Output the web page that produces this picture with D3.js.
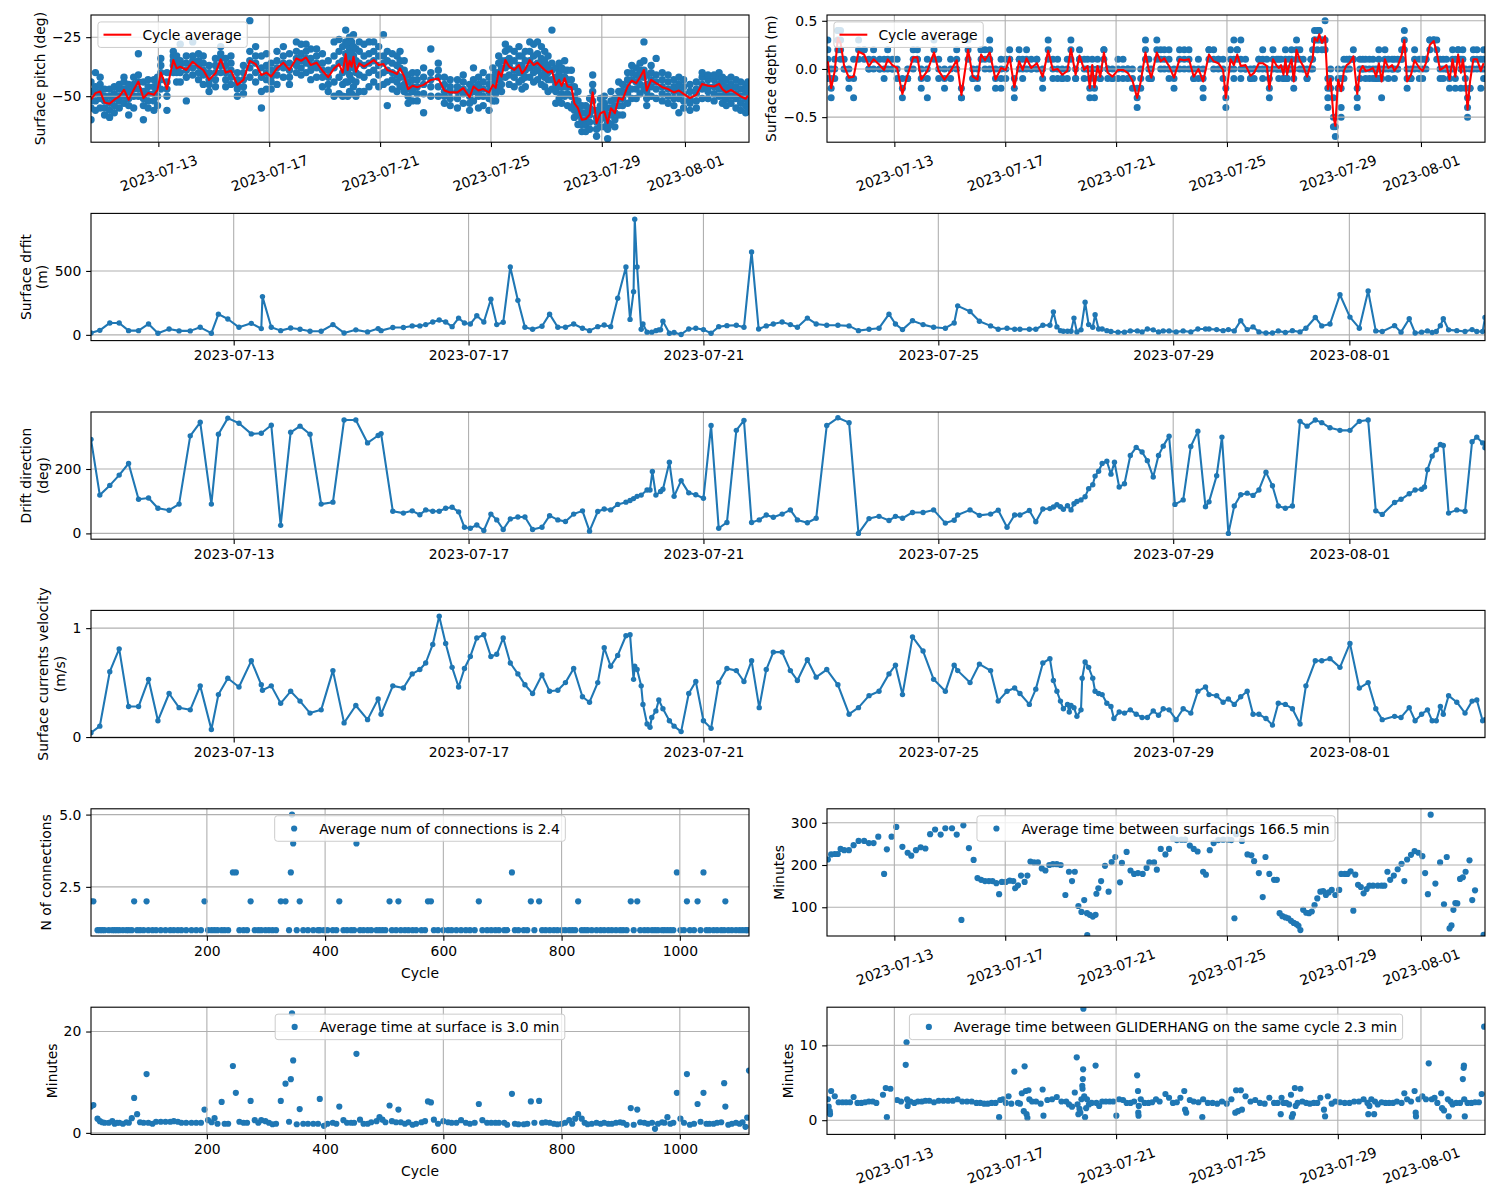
<!DOCTYPE html>
<html><head><meta charset="utf-8">
<script src="https://cdn.jsdelivr.net/npm/d3@7/dist/d3.min.js"></script>
<style>
html,body{margin:0;padding:0;background:#fff;}
svg{display:block;}
text{font-family:"DejaVu Sans",sans-serif;}
</style></head>
<body>
<svg id="chart" width="1500" height="1200"></svg>
<script>
// ================= DATA =================
const START = "2023-07-10";            // time values below are days since this date (UTC)
const timeExtent = [0.57, 24.31];
const cycleExtent = [4, 1117];
const dateTickLabels = ["2023-07-13","2023-07-17","2023-07-21","2023-07-25","2023-07-29","2023-08-01"];
const cycleTicks = [200,400,600,800,1000];

// [time, cycle average pitch, [pitch samples]]
const pitchCycles = [
[0.57,-51.5,[-60,-55,-52,-48,-44]],[0.73,-48.7,[-56,-52,-49,-46,-40]],[0.90,-48.0,[-55,-51,-48,-45,-42]],
[1.06,-52.7,[-58,-55,-52,-50,-47]],[1.24,-53.2,[-59,-56,-53,-50,-47]],[1.41,-51.5,[-57,-54,-51,-49,-46]],
[1.59,-50.1,[-55,-52,-50,-47,-45]],[1.76,-47.3,[-53,-50,-47,-44,-42]],[1.93,-51.5,[-58,-54,-51,-48,-45]],
[2.11,-47.3,[-55,-50,-47,-45,-42]],[2.28,-43.8,[-50,-47,-44,-41,-32]],[2.46,-50.8,[-60,-54,-51,-48,-44]],
[2.63,-48.7,[-55,-52,-49,-46,-43]],[2.84,-49.4,[-56,-52,-49,-46,-43]],[2.97,-47.3,[-54,-50,-47,-45,-42]],
[3.09,-40.0,[-47,-43,-40,-37,-34]],[3.31,-47.0,[-56,-50,-47,-44,-40]],[3.54,-34.7,[-40,-37,-35,-33,-31]],
[3.66,-38.2,[-44,-40,-38,-36,-33]],[3.79,-37.5,[-44,-40,-37,-35,-28]],[4.01,-38.9,[-52,-42,-39,-36,-33]],
[4.24,-35.4,[-41,-38,-35,-33,-27]],[4.45,-37.5,[-43,-40,-37,-35,-32]],[4.62,-38.9,[-45,-41,-39,-36,-33]],
[4.83,-43.1,[-48,-45,-43,-40,-37]],[5.06,-40.3,[-46,-43,-40,-37,-34]],[5.25,-34.4,[-40,-37,-34,-32,-29]],
[5.43,-40.0,[-46,-43,-40,-37,-34]],[5.62,-39.2,[-45,-42,-39,-36,-33]],[5.85,-45.2,[-50,-47,-45,-43,-40]],
[6.07,-43.1,[-49,-46,-43,-40,-37]],[6.30,-35.0,[-42,-38,-35,-31,-18]],[6.51,-36.4,[-44,-40,-36,-33,-29]],
[6.72,-41.0,[-55,-48,-42,-38,-33]],[6.90,-40.0,[-47,-43,-40,-37,-32]],[7.07,-41.7,[-47,-44,-42,-39,-36]],
[7.28,-38.2,[-45,-41,-38,-35,-31]],[7.51,-35.8,[-42,-38,-36,-33,-29]],[7.73,-38.9,[-45,-42,-39,-36,-32]],
[7.98,-34.0,[-40,-37,-34,-31,-27]],[8.15,-35.0,[-41,-38,-35,-32,-28]],[8.33,-33.6,[-40,-36,-34,-31,-28]],
[8.50,-36.8,[-43,-39,-37,-34,-30]],[8.71,-35.8,[-42,-38,-36,-33,-30]],[8.92,-39.2,[-46,-42,-39,-36,-32]],
[9.13,-42.0,[-48,-45,-42,-39,-35]],[9.34,-38.2,[-50,-44,-38,-33,-27]],[9.52,-36.4,[-49,-42,-36,-31,-26]],
[9.65,-40.0,[-50,-45,-40,-35,-29]],[9.76,-32.2,[-44,-37,-32,-27,-22]],[9.83,-38.9,[-50,-44,-39,-33,-28]],
[9.90,-35.0,[-48,-41,-35,-30,-25]],[9.97,-37.5,[-49,-43,-37,-32,-27]],[10.04,-33.3,[-46,-38,-33,-29,-24]],
[10.13,-39.6,[-50,-44,-40,-35,-30]],[10.25,-36.1,[-48,-41,-36,-31,-27]],[10.42,-37.5,[-48,-42,-37,-33,-28]],
[10.60,-36.1,[-46,-40,-36,-32,-27]],[10.77,-34.7,[-44,-39,-35,-31,-27]],[10.95,-36.8,[-46,-41,-37,-33,-29]],
[11.12,-36.4,[-45,-40,-36,-33,-24]],[11.26,-38.9,[-54,-44,-39,-35,-31]],[11.44,-39.6,[-47,-43,-40,-36,-32]],
[11.61,-40.6,[-48,-44,-41,-37,-33]],[11.72,-38.2,[-46,-42,-38,-35,-31]],[11.87,-41.7,[-48,-45,-42,-39,-35]],
[12.01,-47.0,[-53,-50,-47,-44,-41]],[12.17,-45.6,[-52,-48,-46,-43,-40]],[12.34,-46.2,[-52,-49,-46,-43,-40]],
[12.57,-45.2,[-57,-49,-45,-42,-38]],[12.83,-43.1,[-50,-46,-43,-40,-30]],[13.10,-42.5,[-50,-46,-42,-39,-36]],
[13.32,-47.6,[-53,-50,-48,-45,-42]],[13.53,-48.4,[-54,-51,-48,-46,-43]],[13.79,-48.4,[-55,-51,-48,-46,-43]],
[14.00,-46.6,[-53,-49,-47,-44,-41]],[14.23,-50.4,[-56,-53,-50,-48,-45]],[14.37,-45.9,[-52,-48,-46,-43,-38]],
[14.55,-47.6,[-55,-50,-48,-45,-42]],[14.72,-47.0,[-54,-50,-47,-44,-40]],[14.93,-48.4,[-56,-51,-48,-45,-42]],
[15.07,-45.2,[-52,-48,-45,-42,-38]],[15.17,-46.5,[-52,-49,-46,-43,-40]],[15.28,-39.6,[-47,-43,-40,-36,-33]],
[15.38,-41.7,[-48,-45,-42,-38,-35]],[15.52,-34.7,[-42,-38,-35,-31,-28]],[15.66,-37.5,[-45,-41,-37,-34,-30]],
[15.84,-38.9,[-46,-42,-39,-35,-31]],[16.01,-36.8,[-44,-40,-37,-33,-29]],[16.12,-40.3,[-47,-43,-40,-37,-33]],
[16.24,-38.6,[-46,-42,-39,-35,-31]],[16.40,-34.7,[-42,-38,-35,-31,-27]],[16.54,-36.8,[-44,-40,-37,-33,-28]],
[16.68,-35.8,[-43,-39,-36,-32,-27]],[16.82,-37.5,[-45,-41,-37,-34,-29]],[16.94,-38.9,[-46,-42,-39,-35,-31]],
[17.06,-40.0,[-48,-43,-40,-37,-33]],[17.20,-39.2,[-47,-43,-39,-36,-22]],[17.34,-45.2,[-53,-48,-45,-42,-38]],
[17.46,-43.1,[-51,-46,-43,-40,-36]],[17.55,-45.6,[-53,-49,-46,-42,-38]],[17.66,-42.4,[-50,-46,-42,-39,-35]],
[17.76,-45.9,[-54,-49,-46,-43,-39]],[17.90,-46.2,[-55,-50,-46,-43,-39]],[18.01,-53.0,[-59,-56,-53,-50,-46]],
[18.14,-55.1,[-62,-58,-55,-52,-48]],[18.28,-60.0,[-65,-62,-60,-57,-54]],[18.42,-59.7,[-65,-62,-60,-57,-54]],
[18.56,-57.9,[-64,-61,-58,-55,-51]],[18.67,-48.4,[-56,-52,-48,-45,-41]],[18.81,-61.4,[-67,-64,-61,-59,-56]],
[18.95,-57.2,[-63,-60,-57,-54,-51]],[19.09,-56.5,[-63,-59,-56,-53,-50]],[19.21,-61.4,[-68,-64,-61,-58,-55]],
[19.33,-55.1,[-62,-58,-55,-52,-48]],[19.47,-57.2,[-63,-60,-57,-54,-51]],[19.61,-50.8,[-58,-54,-51,-48,-44]],
[19.75,-51.5,[-58,-54,-51,-48,-45]],[19.93,-45.9,[-53,-49,-46,-43,-40]],[20.08,-43.4,[-51,-47,-43,-40,-37]],
[20.24,-44.5,[-51,-47,-44,-41,-38]],[20.38,-42.0,[-49,-45,-42,-39,-36]],[20.52,-38.9,[-47,-42,-39,-35,-27]],
[20.62,-47.6,[-54,-51,-48,-45,-41]],[20.78,-43.1,[-50,-46,-43,-40,-37]],[20.96,-44.5,[-51,-47,-44,-41,-34]],
[21.18,-46.2,[-52,-49,-46,-43,-40]],[21.39,-47.0,[-53,-50,-47,-44,-41]],[21.60,-48.4,[-54,-51,-48,-46,-43]],
[21.78,-47.6,[-57,-51,-48,-45,-42]],[21.95,-49.0,[-55,-52,-49,-46,-43]],[22.18,-50.8,[-56,-53,-51,-48,-45]],
[22.41,-49.4,[-55,-52,-49,-47,-44]],[22.62,-44.8,[-51,-47,-45,-42,-40]],[22.83,-45.6,[-51,-48,-46,-43,-41]],
[23.05,-45.9,[-52,-49,-46,-43,-41]],[23.23,-44.8,[-50,-47,-45,-42,-40]],[23.35,-47.0,[-53,-50,-47,-44,-42]],
[23.49,-48.4,[-54,-51,-48,-46,-43]],[23.66,-47.3,[-53,-50,-47,-45,-42]],[23.84,-48.7,[-55,-51,-49,-46,-43]],
[24.01,-50.1,[-56,-53,-50,-47,-44]],[24.19,-51.1,[-57,-54,-51,-48,-45]],[24.27,-49.8,[-56,-52,-50,-47,-44]]
];

// [time, cycle average depth, [depth samples]]
const depthCycles = [
[0.60,0.08,[0.3,0.2,0.1,0,-0.1]],[0.72,-0.20,[0,-0.1,-0.2,-0.3]],[0.85,-0.02,[0.1,0,-0.1]],[0.96,0.32,[0.4,0.4,0.3,0.2]],
[1.06,0.27,[0.4,0.3,0.2,0.1]],[1.19,0.03,[0.1,0,0]],[1.36,-0.09,[0,-0.1,-0.2]],[1.53,-0.08,[0.1,-0.1,-0.3]],
[1.71,0.18,[0.3,0.2,0.1]],[1.91,0.15,[0.2,0.2,0.1]],[2.08,0.03,[0.1,0,0]],[2.25,0.10,[0.2,0.1,0]],
[2.47,0.04,[0.1,0,0]],[2.63,-0.01,[0.1,0,-0.1]],[2.76,0.10,[0.2,0.1,0]],[2.93,0.04,[0.1,0,0]],
[3.10,0.01,[0.1,0,-0.1]],[3.29,-0.26,[-0.1,-0.2,-0.3]],[3.48,-0.06,[0,-0.1,-0.1]],[3.68,0.12,[0.2,0.1,0]],
[3.83,0.12,[0.2,0.1,0.1]],[3.97,-0.11,[0,-0.1,-0.2]],[4.19,-0.02,[0.1,0,-0.1,-0.3]],[4.43,0.17,[0.3,0.2,0.1]],
[4.60,-0.02,[0.1,0,-0.1]],[4.81,-0.11,[0,-0.1,-0.2]],[5.03,-0.02,[0.1,0,-0.1]],[5.25,0.09,[0.2,0.1,0]],
[5.42,-0.27,[-0.2,-0.3,-0.3]],[5.66,0.20,[0.3,0.2,0.1]],[5.83,-0.08,[0,-0.1,-0.1]],[6.00,-0.11,[0,-0.1,-0.2]],
[6.13,0.15,[0.2,0.2,0.1]],[6.27,0.09,[0.2,0.1,0]],[6.44,0.17,[0.3,0.2,0.1,0]],[6.65,-0.11,[0,-0.1,-0.2]],
[6.85,0.01,[0.1,0,-0.1,-0.2]],[7.02,-0.01,[0.1,0,-0.1]],[7.16,0.12,[0.2,0.1,0.1]],[7.33,-0.19,[-0.1,-0.2,-0.3]],
[7.50,0.08,[0.2,0.1,0]],[7.63,-0.01,[0.1,0,-0.1]],[7.77,0.11,[0.2,0.1,0]],[7.94,0.01,[0.1,0,0]],
[8.14,0.06,[0.1,0.1,0]],[8.35,-0.08,[0,-0.1,-0.2]],[8.55,0.19,[0.3,0.2,0.1]],[8.72,-0.01,[0.1,0,-0.1]],
[8.89,0.00,[0.1,0,-0.1]],[9.06,-0.06,[0,-0.1,-0.1]],[9.24,-0.02,[0.1,0,-0.1]],[9.37,0.21,[0.3,0.2,0.1]],
[9.54,-0.06,[0,-0.1,-0.1]],[9.68,0.14,[0.2,0.1,0.1]],[9.85,-0.01,[0.1,0,-0.1]],[9.97,0.03,[0.1,0,0]],
[10.05,-0.20,[-0.1,-0.2,-0.3]],[10.14,0.04,[0.1,0,0]],[10.22,-0.19,[-0.1,-0.2,-0.3]],[10.33,0.03,[0.1,0,0]],
[10.43,-0.08,[0,-0.1,-0.1]],[10.56,0.17,[0.2,0.2,0.1]],[10.70,-0.04,[0,0,-0.1]],[10.87,-0.08,[0,-0.1,-0.1]],
[11.07,-0.01,[0.1,0,-0.1]],[11.25,-0.01,[0.1,0,-0.1]],[11.42,-0.04,[0,0,-0.1]],[11.59,-0.12,[0,-0.1,-0.2]],
[11.76,-0.30,[-0.2,-0.3,-0.4]],[11.89,-0.13,[0,-0.1,-0.2]],[12.06,0.17,[0.3,0.2,0.1]],[12.18,-0.01,[0.1,0,-0.1]],
[12.27,-0.09,[0,-0.1,-0.1]],[12.47,0.17,[0.3,0.2,0.1]],[12.61,0.08,[0.2,0.1,0]],[12.74,0.11,[0.2,0.1,0]],
[12.91,0.03,[0.2,0.1,0,-0.1]],[13.09,-0.09,[0,-0.1,-0.2]],[13.29,0.10,[0.2,0.1,0]],[13.46,0.09,[0.2,0.1,0]],
[13.63,0.10,[0.2,0.1,0]],[13.80,-0.08,[0,-0.1,-0.1]],[13.97,0.00,[0.1,0,-0.1]],[14.14,-0.13,[0,-0.1,-0.2,-0.3]],
[14.35,0.15,[0.2,0.2,0.1]],[14.52,0.08,[0.2,0.1,0]],[14.69,0.06,[0.1,0.1,0]],[14.86,-0.01,[0.1,0,-0.1]],
[14.96,-0.30,[-0.2,-0.3,-0.4]],[15.13,0.10,[0.2,0.1,0]],[15.25,0.04,[0.3,0.1,0,-0.1]],[15.37,0.15,[0.2,0.2,0.1]],
[15.50,0.03,[0.3,0.1,0,-0.1]],[15.67,0.04,[0.1,0,0]],[15.85,-0.07,[0,-0.1,-0.1]],[15.98,-0.04,[0,0,-0.1]],
[16.15,0.06,[0.1,0.1,0]],[16.29,0.06,[0.2,0.1,0,-0.1]],[16.44,0.03,[0.1,0,0]],[16.53,-0.21,[-0.1,-0.2,-0.3]],
[16.66,0.10,[0.2,0.1,0]],[16.80,0.03,[0.1,0,0]],[16.87,0.01,[0.1,0,-0.1]],[16.95,0.04,[0.1,0,0]],
[17.04,-0.06,[0,-0.1,-0.1]],[17.11,0.10,[0.2,0.1,0]],[17.17,-0.06,[0,-0.1,-0.1]],[17.24,0.03,[0.1,0,0]],
[17.33,0.10,[0.2,0.1,0]],[17.41,-0.13,[0,-0.1,-0.2]],[17.51,0.20,[0.3,0.2,0.1]],[17.63,0.09,[0.2,0.1,0]],
[17.75,0.03,[0.1,0,0]],[17.89,-0.08,[0,-0.1,-0.1]],[18.03,0.06,[0.1,0.1,0]],[18.09,0.10,[0.2,0.1,0]],
[18.16,0.32,[0.4,0.3,0.3]],[18.26,0.29,[0.4,0.3,0.2]],[18.33,0.36,[0.4,0.4,0.3]],[18.43,0.27,[0.3,0.3,0.2]],
[18.54,0.34,[0.5,0.3,0.2]],[18.64,-0.21,[-0.1,-0.2,-0.3,-0.4]],[18.74,-0.10,[0,-0.1,-0.2]],[18.84,-0.49,[-0.3,-0.5,-0.6]],
[18.91,-0.59,[-0.5,-0.6,-0.7]],[19.01,-0.11,[0,-0.1,-0.2]],[19.12,-0.23,[-0.1,-0.2,-0.4,-0.5]],[19.22,-0.02,[0.1,0,-0.1]],
[19.32,0.04,[0.1,0,0]],[19.42,0.06,[0.1,0.1,0]],[19.56,0.13,[0.2,0.1,0.1]],[19.70,-0.26,[-0.2,-0.3,-0.4]],
[19.80,-0.02,[0.1,0,-0.1]],[19.90,0.03,[0.1,0,0]],[20.00,-0.02,[0.1,0,-0.1]],[20.14,-0.01,[0.1,0,-0.1]],
[20.27,0.01,[0.1,0,-0.1]],[20.38,-0.08,[0,-0.1,-0.1]],[20.48,0.06,[0.2,0.1,0,-0.1]],[20.58,-0.13,[0,-0.1,-0.3]],
[20.70,0.10,[0.2,0.1,0]],[20.82,0.01,[0.1,0,-0.1]],[20.96,0.04,[0.1,0,0]],[21.04,-0.02,[0.1,0,-0.1]],
[21.16,0.03,[0.1,0,0]],[21.30,0.14,[0.2,0.1,0.1]],[21.40,0.30,[0.4,0.3,0.2]],[21.50,-0.13,[0,-0.1,-0.2]],
[21.64,-0.06,[0,-0.1,-0.1]],[21.77,0.09,[0.2,0.1,0]],[21.94,0.01,[0.1,0,-0.1]],[22.06,-0.02,[0.1,0,-0.1]],
[22.18,0.06,[0.1,0.1,0]],[22.32,0.25,[0.3,0.3,0.2]],[22.46,0.29,[0.3,0.3,0.3]],[22.57,0.17,[0.3,0.2,0.1]],
[22.69,-0.01,[0.1,0,-0.1]],[22.80,0.01,[0.1,0,-0.1]],[22.92,0.04,[0.1,0,0]],[23.03,-0.11,[0,-0.1,-0.2]],
[23.14,0.10,[0.2,0.1,0]],[23.24,-0.08,[0.1,-0.1,-0.2]],[23.34,0.15,[0.2,0.2,0.1]],[23.44,-0.04,[0.1,0,-0.2]],
[23.51,0.10,[0.2,0.1,0]],[23.60,-0.09,[0,-0.1,-0.2]],[23.68,-0.42,[-0.3,-0.4,-0.5]],[23.77,-0.13,[0,-0.2,-0.2]],
[23.89,0.10,[0.2,0.1,0]],[24.02,0.10,[0.2,0.1,0]],[24.16,-0.02,[0.1,0,-0.2]],[24.26,0.06,[0.2,0.1,0,-0.1]]
];

// [time, surface drift (m)]
const driftData = [
[0.57,15],[0.72,35],[0.89,93],[1.05,93],[1.21,33],[1.38,33],[1.55,85],[1.71,13],[1.90,46],[2.07,31],[2.26,31],[2.43,59],
[2.62,13],[2.74,162],[2.90,124],[3.09,59],[3.30,90],[3.47,49],[3.49,299],[3.64,59],[3.80,33],[3.97,54],[4.13,44],[4.30,28],
[4.49,28],[4.69,80],[4.88,15],[5.08,39],[5.28,23],[5.46,49],[5.51,33],[5.71,57],[5.89,57],[6.04,70],[6.17,70],[6.27,80],
[6.39,100],[6.50,116],[6.61,100],[6.72,64],[6.83,131],[6.93,93],[7.03,85],[7.14,149],[7.26,100],[7.38,278],[7.48,80],[7.59,98],
[7.71,531],[7.84,270],[7.96,59],[8.09,44],[8.25,67],[8.38,162],[8.52,59],[8.65,59],[8.79,85],[8.94,52],[9.06,33],[9.20,64],
[9.31,77],[9.42,64],[9.54,286],[9.68,531],[9.75,121],[9.81,338],[9.83,904],[9.87,531],[9.94,44],[9.97,85],[10.04,21],[10.12,21],
[10.19,33],[10.24,39],[10.27,39],[10.31,106],[10.42,13],[10.50,18],[10.62,3],[10.75,46],[10.87,52],[11.00,41],[11.13,13],[11.26,64],
[11.40,72],[11.56,75],[11.69,59],[11.82,649],[11.94,46],[12.07,70],[12.19,85],[12.34,100],[12.48,80],[12.60,59],[12.77,131],[12.92,85],
[13.10,75],[13.29,75],[13.48,70],[13.64,33],[13.82,44],[13.99,52],[14.16,162],[14.27,85],[14.39,41],[14.56,111],[14.74,80],[14.92,59],
[15.12,52],[15.27,93],[15.33,227],[15.54,183],[15.70,106],[15.89,70],[16.02,44],[16.17,52],[16.30,44],[16.39,44],[16.55,44],[16.66,44],
[16.78,75],[16.90,75],[16.96,180],[17.02,62],[17.08,33],[17.13,28],[17.20,28],[17.26,28],[17.31,131],[17.36,23],[17.43,39],[17.50,255],
[17.56,80],[17.63,59],[17.67,157],[17.73,46],[17.79,46],[17.87,33],[17.94,26],[18.06,21],[18.17,21],[18.27,31],[18.39,31],[18.47,23],
[18.56,46],[18.66,39],[18.75,23],[18.83,31],[18.93,31],[19.05,23],[19.17,31],[19.30,23],[19.42,46],[19.55,46],[19.61,46],[19.74,41],
[19.85,33],[19.94,41],[20.04,31],[20.15,111],[20.26,41],[20.36,62],[20.46,23],[20.58,15],[20.69,15],[20.79,31],[20.91,18],[21.03,33],
[21.16,23],[21.26,52],[21.42,136],[21.53,70],[21.67,85],[21.84,314],[22.01,139],[22.17,52],[22.32,343],[22.45,31],[22.56,26],[22.77,72],
[22.88,21],[23.02,126],[23.12,15],[23.23,21],[23.33,31],[23.41,18],[23.48,26],[23.55,72],[23.60,126],[23.69,39],[23.83,33],[23.97,26],
[24.09,41],[24.17,26],[24.27,26],[24.31,136]
];

// [time, drift direction (deg)]
const directionData = [
[0.57,292],[0.72,119],[0.89,149],[1.05,181],[1.21,217],[1.38,106],[1.55,110],[1.71,78],[1.90,72],[2.07,91],[2.26,303],[2.43,345],
[2.62,91],[2.74,308],[2.90,358],[3.09,342],[3.30,309],[3.47,311],[3.64,336],[3.80,25],[3.97,314],[4.13,333],[4.30,308],[4.49,91],
[4.69,97],[4.88,352],[5.08,352],[5.28,281],[5.46,304],[5.51,310],[5.71,69],[5.89,63],[6.04,70],[6.17,58],[6.27,73],[6.39,69],
[6.50,69],[6.61,78],[6.72,81],[6.83,67],[6.93,19],[7.03,16],[7.14,26],[7.26,9],[7.38,60],[7.48,42],[7.59,12],[7.71,45],
[7.84,51],[7.96,51],[8.09,12],[8.25,19],[8.38,55],[8.52,42],[8.65,37],[8.79,60],[8.94,70],[9.06,7],[9.20,68],[9.31,76],
[9.42,73],[9.54,90],[9.68,97],[9.75,102],[9.81,108],[9.87,115],[9.94,119],[10.04,135],[10.09,135],[10.13,192],[10.19,119],[10.27,130],
[10.31,137],[10.42,221],[10.50,115],[10.62,164],[10.75,126],[10.87,120],[11.00,109],[11.13,335],[11.26,16],[11.40,34],[11.56,320],[11.69,351],
[11.82,34],[11.95,42],[12.07,57],[12.19,50],[12.34,60],[12.48,73],[12.60,42],[12.77,33],[12.92,47],[13.10,335],[13.29,359],[13.48,344],
[13.64,0],[13.82,46],[13.99,53],[14.16,40],[14.27,53],[14.39,47],[14.56,65],[14.74,65],[14.92,73],[15.12,32],[15.27,41],[15.33,57],
[15.54,73],[15.70,56],[15.89,60],[16.02,72],[16.17,19],[16.30,57],[16.39,57],[16.55,71],[16.66,36],[16.78,76],[16.90,77],[16.96,82],
[17.02,89],[17.08,83],[17.13,75],[17.20,86],[17.26,73],[17.31,92],[17.36,99],[17.43,104],[17.50,114],[17.56,139],[17.63,151],[17.67,178],
[17.73,193],[17.79,217],[17.87,224],[17.94,184],[18.00,221],[18.08,144],[18.17,154],[18.27,242],[18.37,267],[18.47,253],[18.56,226],[18.66,175],
[18.75,242],[18.83,271],[18.93,302],[19.03,90],[19.17,104],[19.30,270],[19.42,317],[19.55,83],[19.61,98],[19.74,179],[19.83,299],[19.94,0],
[20.04,85],[20.15,120],[20.26,125],[20.36,118],[20.46,135],[20.58,190],[20.69,148],[20.79,85],[20.91,78],[21.03,85],[21.16,348],[21.28,333],
[21.42,352],[21.53,344],[21.67,328],[21.84,320],[22.01,320],[22.17,348],[22.32,352],[22.45,70],[22.56,59],[22.77,96],[22.88,106],[23.02,123],
[23.12,135],[23.23,137],[23.28,144],[23.33,198],[23.41,240],[23.48,260],[23.55,276],[23.60,273],[23.69,63],[23.83,73],[23.97,69],[24.09,285],
[24.17,299],[24.27,281],[24.31,266]
];

// [time, surface currents velocity (m/s)]
const velocityData = [
[0.57,0.04],[0.72,0.10],[0.89,0.60],[1.05,0.81],[1.21,0.28],[1.38,0.28],[1.55,0.53],[1.71,0.15],[1.90,0.40],[2.07,0.27],[2.26,0.25],[2.43,0.47],
[2.62,0.07],[2.74,0.39],[2.90,0.54],[3.09,0.46],[3.30,0.70],[3.47,0.48],[3.49,0.43],[3.64,0.47],[3.80,0.31],[3.97,0.42],[4.13,0.33],[4.30,0.22],
[4.49,0.25],[4.69,0.61],[4.88,0.13],[5.08,0.29],[5.28,0.16],[5.46,0.35],[5.51,0.21],[5.71,0.47],[5.89,0.45],[6.04,0.58],[6.17,0.62],[6.27,0.68],
[6.39,0.85],[6.50,1.11],[6.61,0.86],[6.72,0.64],[6.83,0.46],[6.93,0.63],[7.03,0.74],[7.14,0.91],[7.26,0.94],[7.38,0.74],[7.48,0.76],[7.59,0.91],
[7.71,0.68],[7.84,0.58],[7.96,0.48],[8.09,0.40],[8.25,0.57],[8.38,0.42],[8.52,0.43],[8.65,0.50],[8.79,0.63],[8.94,0.37],[9.06,0.32],[9.20,0.50],
[9.31,0.82],[9.42,0.65],[9.54,0.75],[9.68,0.93],[9.75,0.94],[9.81,0.53],[9.83,0.65],[9.87,0.62],[9.94,0.47],[9.97,0.30],[10.04,0.12],[10.09,0.09],
[10.12,0.18],[10.19,0.24],[10.24,0.34],[10.31,0.26],[10.42,0.15],[10.50,0.10],[10.62,0.05],[10.75,0.40],[10.87,0.51],[11.00,0.15],[11.13,0.08],[11.26,0.50],
[11.40,0.63],[11.56,0.61],[11.69,0.51],[11.82,0.70],[11.95,0.27],[12.07,0.62],[12.19,0.78],[12.34,0.78],[12.48,0.61],[12.60,0.52],[12.77,0.71],[12.92,0.55],
[13.10,0.62],[13.29,0.48],[13.48,0.21],[13.64,0.27],[13.82,0.38],[13.99,0.42],[14.16,0.58],[14.27,0.66],[14.39,0.39],[14.56,0.92],[14.74,0.79],[14.92,0.53],
[15.12,0.42],[15.27,0.66],[15.33,0.61],[15.54,0.50],[15.70,0.67],[15.89,0.61],[16.02,0.33],[16.17,0.42],[16.30,0.45],[16.39,0.40],[16.55,0.30],[16.66,0.44],
[16.78,0.68],[16.90,0.72],[16.96,0.52],[17.02,0.42],[17.08,0.33],[17.13,0.26],[17.20,0.30],[17.23,0.23],[17.26,0.29],[17.31,0.27],[17.36,0.19],[17.43,0.25],
[17.45,0.54],[17.50,0.69],[17.56,0.64],[17.63,0.54],[17.67,0.42],[17.73,0.40],[17.79,0.39],[17.87,0.31],[17.94,0.28],[17.99,0.17],[18.08,0.23],[18.17,0.22],
[18.27,0.25],[18.37,0.21],[18.47,0.18],[18.56,0.18],[18.66,0.24],[18.75,0.20],[18.83,0.26],[18.93,0.25],[19.05,0.16],[19.17,0.26],[19.30,0.22],[19.42,0.42],
[19.55,0.46],[19.61,0.39],[19.74,0.38],[19.85,0.32],[19.94,0.35],[20.04,0.30],[20.15,0.37],[20.26,0.42],[20.36,0.21],[20.46,0.21],[20.58,0.17],[20.69,0.11],
[20.79,0.31],[20.91,0.30],[21.03,0.26],[21.16,0.12],[21.26,0.47],[21.42,0.70],[21.53,0.70],[21.67,0.72],[21.84,0.64],[22.01,0.86],[22.17,0.45],[22.32,0.50],
[22.45,0.26],[22.56,0.16],[22.77,0.19],[22.88,0.18],[23.02,0.27],[23.12,0.15],[23.23,0.21],[23.33,0.25],[23.41,0.15],[23.48,0.15],[23.55,0.28],[23.60,0.21],
[23.69,0.38],[23.83,0.32],[23.97,0.22],[24.09,0.33],[24.17,0.34],[24.27,0.15],[24.31,0.16]
];

// [time, minutes between surfacings]
const surfacingGap = [
[0.60,213],[0.72,225],[0.85,226],[0.96,226],[1.06,238],[1.19,235],[1.36,235],[1.53,247],[1.71,257],[1.91,257],[2.08,252],[2.25,252],
[2.42,267],[2.63,179],[2.73,237],[2.90,267],[3.07,290],[3.29,243],[3.48,229],[3.61,222],[3.78,235],[3.95,242],[4.12,239],[4.29,273],
[4.47,284],[4.67,272],[4.84,287],[5.08,287],[5.25,272],[5.42,70],[5.49,294],[5.69,240],[5.86,212],[6.00,169],[6.13,165],[6.27,162],
[6.41,162],[6.54,162],[6.68,157],[6.78,131],[6.88,160],[7.02,160],[7.16,163],[7.29,162],[7.36,145],[7.46,152],[7.57,175],[7.70,160],
[7.80,175],[7.91,208],[8.04,206],[8.18,206],[8.32,192],[8.45,187],[8.59,200],[8.72,202],[8.86,202],[9.00,200],[9.17,129],[9.30,184],
[9.41,162],[9.51,184],[9.64,103],[9.75,89],[9.85,117],[9.95,86],[9.96,34],[10.05,82],[10.16,78],[10.26,82],[10.29,132],[10.36,145],
[10.46,162],[10.60,198],[10.73,137],[10.84,207],[10.97,219],[11.14,159],[11.21,205],[11.38,231],[11.52,187],[11.65,179],[11.79,181],[11.96,179],
[12.10,193],[12.20,206],[12.37,206],[12.47,189],[12.61,238],[12.78,225],[12.91,238],[13.05,263],[13.19,259],[13.36,260],[13.49,260],[13.66,246],
[13.80,238],[13.94,232],[14.14,184],[14.24,177],[14.38,235],[14.52,252],[14.69,259],[14.86,260],[15.03,260],[15.16,259],[15.27,74],[15.33,273],
[15.54,257],[15.74,225],[15.88,223],[15.98,209],[16.15,181],[16.29,124],[16.39,219],[16.53,179],[16.70,165],[16.80,165],[16.90,86],[17.00,79],
[17.11,76],[17.21,74],[17.31,68],[17.41,63],[17.51,60],[17.58,56],[17.65,46],[17.75,94],[17.86,87],[17.96,86],[18.06,90],[18.16,105],
[18.26,121],[18.37,137],[18.47,138],[18.57,129],[18.67,135],[18.78,141],[18.91,129],[19.05,141],[19.12,179],[19.25,179],[19.35,179],[19.46,185],
[19.56,92],[19.63,177],[19.73,153],[19.83,148],[19.93,133],[20.04,143],[20.14,151],[20.27,151],[20.44,151],[20.58,151],[20.68,151],[20.79,184],
[20.89,165],[21.02,175],[21.16,190],[21.30,203],[21.40,162],[21.50,213],[21.64,224],[21.77,233],[21.91,229],[22.05,221],[22.15,181],[22.25,131],
[22.35,319],[22.52,156],[22.69,206],[22.83,107],[22.93,219],[23.03,50],[23.10,57],[23.17,94],[23.24,110],[23.31,109],[23.41,167],[23.51,171],
[23.61,184],[23.75,211],[23.85,117],[23.95,140],[24.26,35]
];

// [time, minutes between GLIDERHANG on the same cycle]
const gliderhangGap = [
[0.60,2.8],[0.63,1.8],[0.67,1.2],[0.68,0.8],[0.72,3.9],[0.85,3.2],[0.99,2.4],[1.13,2.4],[1.26,2.4],[1.40,2.4],[1.53,3.1],[1.67,2.3],
[1.81,2.3],[1.94,2.4],[2.08,2.5],[2.22,2.5],[2.35,2.3],[2.59,3.4],[2.69,4.3],[2.73,0.4],[2.86,4.2],[3.10,2.7],[3.24,2.5],[3.41,7.4],
[3.44,10.4],[3.46,2.8],[3.48,1.9],[3.51,2.5],[3.58,2.5],[3.72,2.3],[3.85,2.5],[3.99,2.5],[4.12,2.6],[4.26,2.6],[4.43,2.4],[4.60,2.6],
[4.77,2.6],[4.94,2.6],[5.11,2.6],[5.28,2.8],[5.45,2.5],[5.62,2.5],[5.79,2.5],[5.96,2.3],[6.10,2.3],[6.24,2.2],[6.37,2.2],[6.51,2.3],
[6.65,2.3],[6.78,0.4],[6.82,2.7],[6.92,2.8],[7.02,2.3],[7.12,3.2],[7.22,2.2],[7.33,6.5],[7.46,2.3],[7.53,2.2],[7.60,3.6],[7.67,1.2],
[7.70,7.2],[7.74,3.9],[7.77,0.8],[7.80,0.3],[7.84,4.0],[7.87,2.8],[7.97,2.5],[8.11,2.5],[8.28,2.2],[8.35,4.1],[8.38,0.6],[8.52,2.7],
[8.69,2.8],[8.86,3.1],[9.03,2.5],[9.20,2.5],[9.30,2.1],[9.41,1.8],[9.51,3.7],[9.58,8.4],[9.61,2.1],[9.64,0.8],[9.68,1.5],[9.71,1.0],
[9.75,2.8],[9.78,4.6],[9.79,4.2],[9.80,5.5],[9.81,6.8],[9.82,14.9],[9.85,3.2],[9.88,0.4],[9.92,1.6],[9.95,2.8],[10.02,2.1],[10.12,2.3],
[10.26,7.3],[10.29,2.3],[10.39,1.9],[10.50,2.5],[10.63,2.5],[10.77,2.5],[10.90,2.5],[11.01,0.6],[11.11,2.8],[11.25,2.7],[11.38,2.3],[11.52,2.3],
[11.65,2.5],[11.76,6.0],[11.79,3.9],[11.80,1.0],[11.81,0.6],[11.82,1.9],[11.89,2.8],[12.03,2.3],[12.17,2.3],[12.30,2.4],[12.44,2.8],[12.57,2.5],
[12.78,3.5],[12.91,3.0],[13.05,2.3],[13.19,2.4],[13.32,3.0],[13.46,3.9],[13.49,1.4],[13.53,1.0],[13.66,2.7],[13.80,2.5],[13.97,2.4],[14.11,0.4],
[14.14,2.8],[14.31,2.3],[14.48,2.3],[14.65,2.2],[14.82,2.5],[14.99,2.2],[15.16,2.8],[15.30,1.0],[15.33,4.0],[15.40,1.2],[15.50,4.0],[15.54,1.4],
[15.67,3.2],[15.85,2.5],[16.02,2.7],[16.19,2.3],[16.36,2.2],[16.53,3.0],[16.70,2.3],[16.83,2.3],[16.94,0.8],[16.97,3.0],[17.04,2.3],[17.14,2.3],
[17.24,2.1],[17.31,3.4],[17.34,0.4],[17.38,0.8],[17.45,4.3],[17.48,1.9],[17.55,2.3],[17.65,4.2],[17.72,2.5],[17.86,2.3],[17.99,2.2],[18.13,2.3],
[18.26,2.3],[18.37,3.0],[18.50,1.4],[18.54,0.5],[18.64,3.2],[18.78,2.2],[18.91,2.5],[19.08,2.4],[19.25,2.3],[19.42,2.3],[19.59,2.5],[19.76,2.5],
[19.93,2.8],[20.07,2.3],[20.10,0.8],[20.14,1.9],[20.21,2.8],[20.31,0.8],[20.34,2.5],[20.44,2.1],[20.58,2.4],[20.72,2.3],[20.85,2.3],[20.99,2.3],
[21.13,2.5],[21.30,2.3],[21.40,3.6],[21.50,2.8],[21.64,2.5],[21.77,3.9],[21.81,1.0],[21.82,0.5],[21.91,2.8],[22.05,3.2],[22.18,2.8],[22.28,7.6],
[22.39,2.8],[22.49,3.0],[22.59,2.3],[22.73,3.6],[22.76,1.6],[22.83,1.3],[22.97,2.8],[23.00,0.5],[23.07,2.5],[23.14,2.1],[23.27,2.3],[23.41,2.3],
[23.51,5.5],[23.54,7.0],[23.55,7.3],[23.56,2.8],[23.58,0.5],[23.68,2.3],[23.82,2.3],[23.95,2.4],[24.09,2.4],[24.19,3.5],[24.28,12.5]
];

// [cycle, number of connections, minutes at surface]
const cycleRecords = [
[4,2,5.2],[8,2,5.5],[15,1,2.8],[19,1,2.3],[23,1,2.1],[27,1,2.0],[34,1,2.0],[40,1,2.3],[44,1,1.8],[48,1,2.0],[52,1,2.0],[58,1,1.8],
[64,1,2.1],[68,1,2.0],[73,1,2.9],[77,2,6.9],[82,1,3.7],[87,1,2.1],[93,1,2.0],[98,2,11.6],[101,1,2.0],[108,1,1.8],[114,1,2.2],[122,1,2.2],
[130,1,2.2],[138,1,2.2],[144,1,2.3],[151,1,2.2],[157,1,2.0],[165,1,2.0],[174,1,2.0],[182,1,2.0],[190,1,2.0],[196,2,4.6],[202,1,2.5],[208,1,2.1],
[213,1,2.9],[218,1,1.8],[225,1,6.1],[230,1,1.8],[236,1,1.8],[244,3,13.2],[249,3,7.9],[255,1,2.2],[262,1,2.0],[268,1,2.0],[274,2,6.3],[281,1,2.5],
[287,1,2.0],[292,1,2.5],[299,1,2.3],[305,1,2.0],[311,1,1.7],[317,1,1.8],[325,2,6.3],[333,2,9.7],[339,1,2.2],[342,3,10.6],[344,5,23.6],[346,4,14.3],
[352,1,1.7],[357,2,4.7],[363,1,1.8],[371,1,1.8],[380,1,1.8],[388,1,1.8],[391,1,6.7],[398,1,1.4],[404,1,1.8],[413,1,2.0],[419,1,1.8],[424,2,5.2],
[431,1,2.5],[437,1,2.0],[444,1,2.0],[449,1,2.0],[453,4,15.6],[459,1,2.6],[465,1,1.8],[472,1,1.8],[478,1,2.1],[487,1,2.3],[492,1,3.1],[497,1,2.6],
[502,1,2.1],[509,2,5.4],[513,1,2.3],[520,1,2.1],[524,2,4.6],[528,1,2.1],[535,1,1.8],[541,1,2.1],[548,1,1.6],[554,1,1.8],[563,1,2.1],[569,1,2.3],
[574,2,6.2],[579,2,6.0],[584,1,2.6],[591,1,1.8],[600,1,2.3],[608,1,2.1],[614,1,2.0],[622,1,2.0],[630,1,2.5],[638,1,2.0],[645,1,1.8],[653,1,2.0],
[660,2,5.7],[666,1,2.5],[674,1,2.0],[681,1,2.0],[688,1,2.0],[694,1,2.0],[703,1,2.0],[708,1,1.6],[716,3,7.7],[721,1,1.8],[727,1,1.7],[736,1,1.7],
[742,1,1.8],[748,2,6.2],[754,1,2.0],[762,2,6.3],[767,1,2.0],[773,1,2.1],[780,1,2.0],[787,1,1.8],[793,1,1.7],[800,1,1.8],[806,1,2.0],[813,1,2.5],
[818,1,1.8],[823,1,2.8],[828,2,3.7],[834,1,2.8],[839,1,2.0],[844,1,1.7],[851,1,1.8],[859,1,2.0],[866,1,1.8],[872,1,2.0],[879,1,1.8],[885,1,1.8],
[892,1,2.0],[899,1,2.1],[904,1,2.0],[910,1,1.6],[917,2,4.9],[922,1,1.6],[928,2,4.6],[933,1,2.1],[940,1,2.0],[946,1,1.8],[953,1,2.0],[958,1,0.8],
[963,1,1.8],[970,1,2.1],[974,1,2.0],[979,1,3.1],[984,1,1.8],[989,1,2.0],[995,3,7.9],[1001,1,2.8],[1007,1,2.0],[1012,2,11.6],[1017,1,1.6],[1024,1,1.8],
[1030,2,5.7],[1035,1,2.2],[1040,3,7.9],[1045,1,1.8],[1050,1,1.8],[1057,1,1.8],[1063,1,2.0],[1070,1,2.1],[1075,1,9.8],[1077,2,5.2],[1082,1,1.6],[1088,1,1.8],
[1095,1,2.0],[1101,1,1.8],[1106,1,2.1],[1111,1,1.2],[1114,1,3.0],[1117,1,12.3]
];

// ================= RENDER =================
const svg = d3.select("#chart");
const FS = 13.9, BLUE = "#1f77b4", RED = "#ff0000", GRID = "#b0b0b0";
const TICK = 4.86, PAD = 4.86;
const parse = d3.utcParse("%Y-%m-%d");
const t0 = parse(START).getTime();
const toDate = d => new Date(t0 + d * 864e5);
const dateTicks = dateTickLabels.map(parse);

const ROW = [15, 213.4, 412, 610.4, 808.8, 1007.2], H = 127.2;
const LEFT = {left:91, w:658}, RIGHT = {left:827, w:658}, FULL = {left:91, w:1394};

const timeScale = d3.scaleUtc().domain(timeExtent.map(toDate));
const cycleScale = d3.scaleLinear().domain(cycleExtent);

let clipCount = 0;
function axes(cfg){
  const left = cfg.pos.left, w = cfg.pos.w, top = cfg.top, h = H;
  const x = cfg.xScale.copy().range([left, left + w]);
  const y = d3.scaleLinear().domain(cfg.yDomain).range([top + h, top]);
  const id = "clip" + (clipCount++);
  svg.append("clipPath").attr("id", id).append("rect")
     .attr("x", left).attr("y", top).attr("width", w).attr("height", h);
  const under = svg.append("g").attr("clip-path", `url(#${id})`);
  const grid = svg.append("g");
  const over = svg.append("g").attr("clip-path", `url(#${id})`);
  const frame = svg.append("g");
  grid.selectAll("line.gx").data(cfg.xTicks).join("line").attr("class","gx")
    .attr("x1", d => x(d)).attr("x2", d => x(d)).attr("y1", top).attr("y2", top + h)
    .attr("stroke", GRID).attr("stroke-width", 1.1);
  grid.selectAll("line.gy").data(cfg.yTicks).join("line").attr("class","gy")
    .attr("y1", d => y(d)).attr("y2", d => y(d)).attr("x1", left).attr("x2", left + w)
    .attr("stroke", GRID).attr("stroke-width", 1.1);
  const ax = d3.axisBottom(x).tickValues(cfg.xTicks).tickFormat((d, i) => cfg.xLabels[i])
    .tickSize(TICK).tickPadding(PAD);
  const ay = d3.axisLeft(y).tickValues(cfg.yTicks).tickFormat((d, i) => cfg.yLabels[i])
    .tickSize(TICK).tickPadding(PAD);
  const gx = frame.append("g").attr("transform", `translate(0,${top + h})`).call(ax);
  const gy = frame.append("g").attr("transform", `translate(${left},0)`).call(ay);
  [gx, gy].forEach(g => {
    g.select(".domain").remove();
    g.attr("font-size", FS).attr("font-family", "DejaVu Sans");
    g.selectAll("line").attr("stroke", "#000").attr("stroke-width", 1.1);
    g.selectAll("text").attr("fill", "#000");
  });
  if (cfg.rotate) {
    gx.selectAll("text").attr("y", 0).attr("dy", "0.35em").attr("text-anchor", "middle")
      .attr("transform", "translate(0,31) rotate(-20)");
  }
  frame.append("rect").attr("x", left).attr("y", top).attr("width", w).attr("height", h)
    .attr("fill", "none").attr("stroke", "#000").attr("stroke-width", 1.1);
  return {x, y, under, over, left, top, w, h};
}

function ylabel(lines, xs, cy){
  lines.forEach((s, i) => svg.append("text")
    .attr("transform", `translate(${xs[i]},${cy}) rotate(-90)`)
    .attr("text-anchor", "middle").attr("dy", "0.35em").attr("font-size", FS).attr("fill", "#000").text(s));
}
function xlabel(s, cx, y){
  svg.append("text").attr("x", cx).attr("y", y).attr("text-anchor", "middle")
    .attr("font-size", FS).attr("fill", "#000").text(s);
}
function legend(a, text, kind, where){
  const g = svg.append("g");
  const rect = g.append("rect");
  const t = g.append("text").attr("font-size", FS).attr("fill", "#000").text(text);
  const tw = t.node().getComputedTextLength();
  const bp = 5.56, hl = 27.8, hp = 11.1, bh = 25.5;
  const bw = bp + hl + hp + tw + bp;
  const left = where === "center" ? a.left + a.w / 2 - bw / 2 : a.left + 6.95;
  const top = a.top + 6.95;
  rect.attr("x", left).attr("y", top).attr("width", bw).attr("height", bh).attr("rx", 2.8)
    .attr("fill", "#fff").attr("fill-opacity", 0.8).attr("stroke", "#cccccc").attr("stroke-width", 1);
  t.attr("x", left + bp + hl + hp).attr("y", top + bh / 2).attr("dy", "0.36em");
  if (kind === "line") {
    g.append("line").attr("x1", left + bp).attr("x2", left + bp + hl)
      .attr("y1", top + bh / 2).attr("y2", top + bh / 2).attr("stroke", RED).attr("stroke-width", 2.08);
  } else {
    g.append("circle").attr("cx", left + bp + hl / 2).attr("cy", top + bh / 2).attr("r", 3.1).attr("fill", BLUE);
  }
}

const dateCfg = {xScale: timeScale, xTicks: dateTicks, xLabels: dateTickLabels};
const cycleCfg = {xScale: cycleScale, xTicks: cycleTicks, xLabels: cycleTicks.map(String)};

// ---- 1. Surface pitch ----
{
  const a = axes({...dateCfg, pos: LEFT, top: ROW[0], yDomain: [-69.5, -15.6], yTicks: [-50, -25], yLabels: ["\u221250", "\u221225"], rotate: true});
  const pts = pitchCycles.flatMap(r => r[2].map(v => [r[0], v]));
  a.under.selectAll("circle").data(pts).join("circle")
    .attr("cx", d => a.x(toDate(d[0]))).attr("cy", d => a.y(d[1])).attr("r", 3.7).attr("fill", BLUE);
  a.over.append("path").datum(pitchCycles)
    .attr("d", d3.line().x(d => a.x(toDate(d[0]))).y(d => a.y(d[1])))
    .attr("fill", "none").attr("stroke", RED).attr("stroke-width", 2.08).attr("stroke-linejoin", "round");
  ylabel(["Surface pitch (deg)"], [40], ROW[0] + H / 2);
  legend(a, "Cycle average", "line", "left");
}
// ---- 2. Surface depth ----
{
  const a = axes({...dateCfg, pos: RIGHT, top: ROW[0], yDomain: [-0.76, 0.56], yTicks: [-0.5, 0, 0.5], yLabels: ["\u22120.5", "0.0", "0.5"], rotate: true});
  const pts = depthCycles.flatMap(r => r[2].map(v => [r[0], v]));
  a.under.selectAll("circle").data(pts).join("circle")
    .attr("cx", d => a.x(toDate(d[0]))).attr("cy", d => a.y(d[1])).attr("r", 3.5).attr("fill", BLUE);
  a.over.append("path").datum(depthCycles)
    .attr("d", d3.line().x(d => a.x(toDate(d[0]))).y(d => a.y(d[1])))
    .attr("fill", "none").attr("stroke", RED).attr("stroke-width", 2.08).attr("stroke-linejoin", "round");
  ylabel(["Surface depth (m)"], [771], ROW[0] + H / 2);
  legend(a, "Cycle average", "line", "left");
}
// ---- 3-5. line panels ----
function linePanel(data, top, yDomain, yTicks, yLabels, labelLines, labelXs){
  const a = axes({...dateCfg, pos: FULL, top, yDomain, yTicks, yLabels});
  a.over.append("path").datum(data)
    .attr("d", d3.line().x(d => a.x(toDate(d[0]))).y(d => a.y(d[1])))
    .attr("fill", "none").attr("stroke", BLUE).attr("stroke-width", 2.08).attr("stroke-linejoin", "round");
  a.over.selectAll("circle").data(data).join("circle")
    .attr("cx", d => a.x(toDate(d[0]))).attr("cy", d => a.y(d[1])).attr("r", 2.7).attr("fill", BLUE);
  ylabel(labelLines, labelXs, top + H / 2);
}
linePanel(driftData, ROW[1], [-45, 950], [0, 500], ["0", "500"], ["Surface drfit", "(m)"], [26, 42]);
linePanel(directionData, ROW[2], [-18, 377], [0, 200], ["0", "200"], ["Drift direction", "(deg)"], [26, 43]);
linePanel(velocityData, ROW[3], [-0.005, 1.163], [0, 1], ["0", "1"], ["Surface currents velocity", "(m/s)"], [43, 60]);

// ---- 6. N of connections ----
{
  const a = axes({...cycleCfg, pos: LEFT, top: ROW[4], yDomain: [0.8, 5.2], yTicks: [2.5, 5.0], yLabels: ["2.5", "5.0"]});
  a.under.selectAll("circle").data(cycleRecords).join("circle")
    .attr("cx", d => a.x(d[0])).attr("cy", d => a.y(d[1])).attr("r", 3.1).attr("fill", BLUE);
  ylabel(["N of connections"], [46], ROW[4] + H / 2);
  xlabel("Cycle", 420, ROW[4] + H + 41.5);
  legend(a, "Average num of connections is 2.4", "dot", "center");
}
// ---- 7. Time between surfacings ----
{
  const a = axes({...dateCfg, pos: RIGHT, top: ROW[4], yDomain: [32, 333], yTicks: [100, 200, 300], yLabels: ["100", "200", "300"], rotate: true});
  a.under.selectAll("circle").data(surfacingGap).join("circle")
    .attr("cx", d => a.x(toDate(d[0]))).attr("cy", d => a.y(d[1])).attr("r", 3.1).attr("fill", BLUE);
  ylabel(["Minutes"], [779], ROW[4] + H / 2);
  legend(a, "Average time between surfacings 166.5 min", "dot", "center");
}
// ---- 8. Time at surface ----
{
  const a = axes({...cycleCfg, pos: LEFT, top: ROW[5], yDomain: [-0.3, 24.8], yTicks: [0, 20], yLabels: ["0", "20"]});
  a.under.selectAll("circle").data(cycleRecords).join("circle")
    .attr("cx", d => a.x(d[0])).attr("cy", d => a.y(d[2])).attr("r", 3.1).attr("fill", BLUE);
  ylabel(["Minutes"], [52], ROW[5] + H / 2);
  xlabel("Cycle", 420, ROW[5] + H + 41.5);
  legend(a, "Average time at surface is 3.0 min", "dot", "center");
}
// ---- 9. GLIDERHANG ----
{
  const a = axes({...dateCfg, pos: RIGHT, top: ROW[5], yDomain: [-1.9, 15.1], yTicks: [0, 10], yLabels: ["0", "10"], rotate: true});
  a.under.selectAll("circle").data(gliderhangGap).join("circle")
    .attr("cx", d => a.x(toDate(d[0]))).attr("cy", d => a.y(d[1])).attr("r", 3.1).attr("fill", BLUE);
  ylabel(["Minutes"], [788], ROW[5] + H / 2);
  legend(a, "Average time between GLIDERHANG on the same cycle 2.3 min", "dot", "center");
}
</script>
</body></html>
